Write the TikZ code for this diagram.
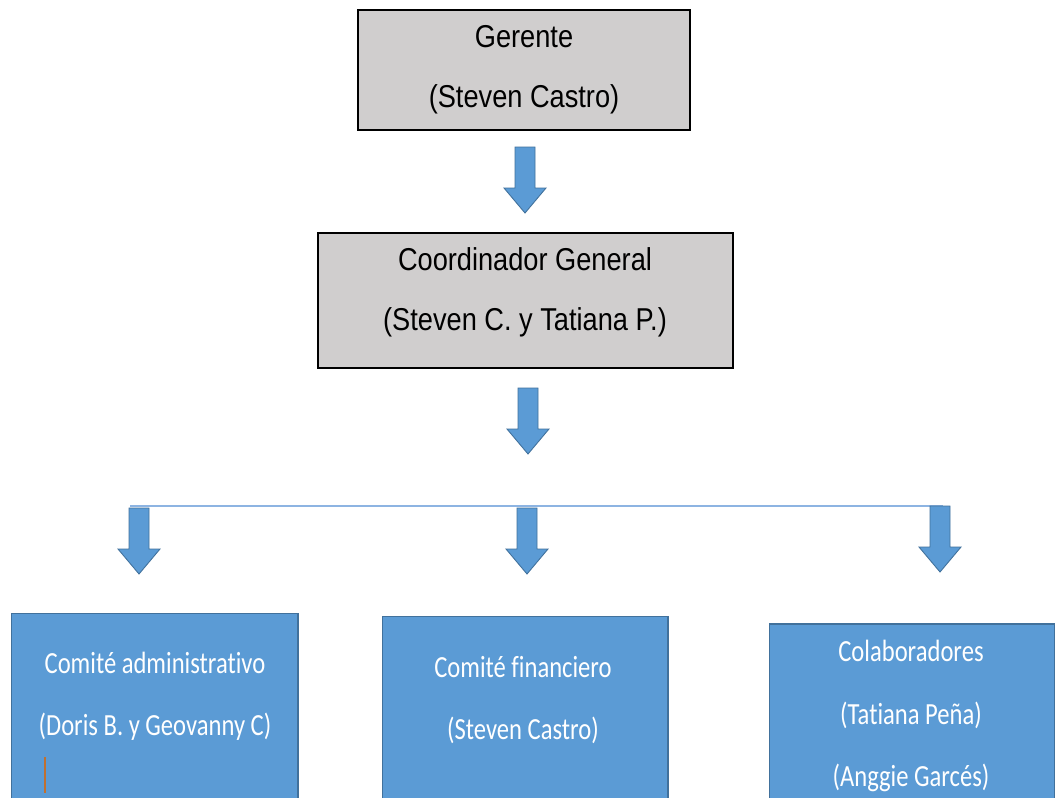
\documentclass[tikz,border=0pt]{standalone}
\usepackage{fontspec}
\usepackage{tikz}
\usetikzlibrary{positioning}
\setmainfont{Liberation Sans}[FakeStretch=0.86]
\newfontfamily\carlito{Carlito}[FakeStretch=0.8, Ligatures=NoCommon]
\definecolor{caja}{RGB}{208,206,206}
\definecolor{azul}{RGB}{91,155,213}
\definecolor{borde}{RGB}{65,113,156}
\definecolor{linea}{RGB}{141,180,226}
\definecolor{cursor}{RGB}{192,112,48}
\tikzset{
  grisbox/.style={draw=black, line width=1pt, fill=caja},
  azulbox/.style={draw=borde, line width=0.6pt, fill=azul},
  flecha/.style={draw=borde, line width=0.5pt, fill=azul},
  textogris/.style={align=center, font=\fontsize{18}{34}\selectfont},
  textoazul/.style={align=center, text=white, font=\carlito\fontsize{17.5}{35.5}\selectfont},
}
% flecha de bloque hacia abajo
\newcommand{\flechabajo}[1]{\draw[flecha] (#1) ++(-10,0) -- ++(20,0) -- ++(0,41) -- ++(11,0) -- ++(-21,25) -- ++(-21,-25) -- ++(11,0) -- cycle;}

\begin{document}
\begin{tikzpicture}[x=0.02cm, y=-0.02cm]
        \clip (0,0) rectangle (1055,798);
        \fill[white] (0,0) rectangle (1055,798);
        % cajas grises
        \node[grisbox, minimum width=6.64cm, minimum height=2.4cm] (gerente) at (524,70) {};
        \node[textogris] (gerentetxt) at (524,70) {Gerente\\(Steven Castro)};
        \node[grisbox, minimum width=8.3cm, minimum height=2.7cm] (coord) at (525.5,300.5) {};
        \node[textogris] (coordtxt) at (525,292) {Coordinador General\\(Steven C. y Tatiana P.)};
        % cajas azules
        \node[azulbox, minimum width=5.74cm, minimum height=3.84cm] (admin) at (154.5,709) {};
        \node[textoazul] (admintxt) at (155,696) {Comité administrativo\\(Doris B. y Geovanny C)};
        \node[azulbox, minimum width=5.72cm, minimum height=3.78cm] (finan) at (525,710.5) {};
        \node[textoazul] (finantxt) at (523,700) {Comité financiero\\(Steven Castro)};
        \node[azulbox, minimum width=5.72cm, minimum height=3.62cm] (colab) at (912,714.5) {};
        \node[textoazul] (colabtxt) at (911,716) {Colaboradores\\(Tatiana Peña)\\(Anggie Garcés)};
        \draw[cursor, line width=1.2pt] (45,757) -- (45,793);
        % linea y flechas
        \coordinate (izq) at (130,506);
        \coordinate (der) at (943,506);
        \draw[linea, line width=1.6pt] (izq) -- (der);
        \coordinate (f1) at (525,147);
        \coordinate (f2) at (528,388);
        \coordinate (f3) at (139,508);
        \coordinate (f4) at (527,508);
        \coordinate (f5) at (940,506);
        \flechabajo{f1}
        \flechabajo{f2}
        \flechabajo{f3}
        \flechabajo{f4}
        \flechabajo{f5}
\end{tikzpicture}
\end{document}
